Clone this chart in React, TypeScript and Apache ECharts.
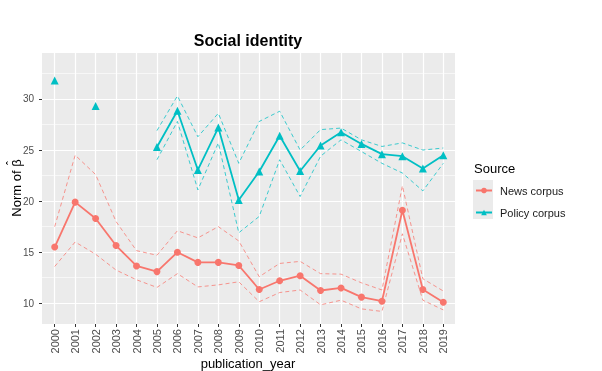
import React, { useEffect, useRef } from 'react';
import * as echarts from 'echarts';

const years = ['2000', '2001', '2002', '2003', '2004', '2005', '2006', '2007', '2008', '2009',
  '2010', '2011', '2012', '2013', '2014', '2015', '2016', '2017', '2018', '2019'];
const yMajorTicks = [10, 15, 20, 25, 30];
const yMinorTicks = [12.5, 17.5, 22.5, 27.5, 32.5];

const newsMean = [15.5, 19.9, 18.3, 15.65, 13.65, 13.1, 15.0, 14.0, 14.0, 13.7,
  11.35, 12.2, 12.7, 11.25, 11.5, 10.6, 10.2, 19.1, 11.35, 10.1];
const newsUpper = [17.5, 24.5, 22.6, 18.0, 15.15, 14.7, 17.1, 16.4, 17.5, 16.1,
  12.6, 13.9, 14.1, 12.9, 12.85, 12.0, 11.3, 21.5, 12.4, 11.2];
const newsLower = [13.6, 16.0, 14.8, 13.25, 12.3, 11.55, 12.9, 11.6, 11.8, 12.1,
  10.15, 11.05, 11.3, 9.85, 10.3, 9.45, 9.2, 16.8, 10.3, 9.35];

const policyMean = [31.8, null, 29.3, null, null, 25.3, 28.85, 23.05, 27.2, 20.1,
  22.9, 26.4, 22.95, 25.45, 26.75, 25.6, 24.6, 24.4, 23.2, 24.5];
const policyUpper = [null, null, null, null, null, 26.9, 30.3, 26.3, 28.6, 23.7,
  27.8, 28.8, 25.0, 27.0, 27.15, 26.0, 25.35, 25.7, 25.0, 25.2];
const policyLower = [null, null, null, null, null, 24.05, 27.8, 21.1, 25.7, 16.9,
  18.5, 24.05, 20.45, 24.4, 26.0, 24.85, 23.7, 22.75, 21.0, 23.7];

const FONT = '"Liberation Sans", Arial, sans-serif';
const NEWS = '#F8766D';
const POLICY = '#00BFC4';

export default function App() {
  const ref = useRef<HTMLDivElement>(null);
  useEffect(() => {
    const chart = echarts.init(ref.current as HTMLDivElement, null, { renderer: 'svg' });
    const yMin = 7.97;
    const yMax = 34.5;
    const dashed = (name: string, data: (number | null)[], color: string) => ({
      type: 'line',
      name,
      data,
      xAxisIndex: 1,
      yAxisIndex: 2,
      symbol: 'none',
      silent: true,
      connectNulls: false,
      lineStyle: { color, width: 1, type: [4, 3], opacity: 0.75 },
      itemStyle: { color },
      z: 2,
    });
    chart.setOption({
      animation: false,
      textStyle: { fontFamily: FONT },
      graphic: [
        {
          type: 'text', x: 248, y: 40,
          style: { text: 'Social identity', font: 'bold 16px ' + FONT, fill: '#000', textAlign: 'center', textVerticalAlign: 'middle' },
        },
        {
          type: 'text', x: 248, y: 363,
          style: { text: 'publication_year', font: '13px ' + FONT, fill: '#000', textAlign: 'center', textVerticalAlign: 'middle' },
        },
        {
          type: 'text', x: 16, y: 188, rotation: Math.PI / 2,
          style: { text: 'Norm of \u03B2', font: '13px ' + FONT, fill: '#000', textAlign: 'center', textVerticalAlign: 'middle' },
        },
        {
          type: 'text', x: 12, y: 163, rotation: Math.PI / 2,
          style: { text: '\u02C6', font: '12px ' + FONT, fill: '#000', textAlign: 'center', textVerticalAlign: 'middle' },
        },
        {
          type: 'text', x: 474, y: 168,
          style: { text: 'Source', font: '13px ' + FONT, fill: '#000', textAlign: 'left', textVerticalAlign: 'middle' },
        },
        {
          type: 'rect', shape: { x: 473, y: 180, width: 20, height: 39 },
          style: { fill: '#EBEBEB' }, z: 0,
        },
      ],
      legend: {
        data: ['News corpus', 'Policy corpus'],
        orient: 'vertical',
        left: 475,
        top: 185,
        itemWidth: 16,
        itemHeight: 7,
        itemGap: 11,
        padding: 0,
        selectedMode: false,
        textStyle: { fontSize: 11, color: '#1A1A1A', fontFamily: FONT, padding: [0, 0, 0, 3] },
      },
      grid: [
        { left: 42, top: 53, width: 413, height: 271, show: true, backgroundColor: '#EBEBEB', borderWidth: 0, outerBoundsMode: 'none', containLabel: false },
        { left: 54.7, top: 53, width: 388.6, height: 271, show: false, outerBoundsMode: 'none', containLabel: false },
      ],
      xAxis: [
        { type: 'value', gridIndex: 0, show: false, min: 0, max: 1 },
        {
          type: 'category', gridIndex: 1, data: years, boundaryGap: false,
          axisLine: { show: false },
          axisTick: { show: true, length: 3, interval: 0, lineStyle: { color: '#333333', width: 1 } },
          axisLabel: { rotate: 90, interval: 0, margin: 5, fontSize: 11, color: '#4D4D4D', fontFamily: FONT },
          splitLine: { show: true, interval: 0, lineStyle: { color: '#FFFFFF', width: 1.2 } },
        },
      ],
      yAxis: [
        {
          type: 'value', gridIndex: 0, min: yMin, max: yMax,
          axisLine: { show: false },
          axisTick: { show: true, length: 3, customValues: yMajorTicks, lineStyle: { color: '#333333', width: 1 } },
          axisLabel: { customValues: yMajorTicks, margin: 8, fontSize: 10, color: '#4D4D4D', fontFamily: FONT },
          splitLine: { show: true, lineStyle: { color: '#FFFFFF', width: 1.2 } },
        },
        {
          type: 'value', gridIndex: 0, min: yMin, max: yMax,
          axisLine: { show: false },
          axisTick: { show: false, customValues: yMinorTicks },
          axisLabel: { show: false, customValues: yMinorTicks },
          splitLine: { show: true, lineStyle: { color: '#FFFFFF', width: 0.6 } },
        },
        {
          type: 'value', gridIndex: 1, min: yMin, max: yMax, show: false,
          splitLine: { show: false },
        },
      ],
      series: [
        dashed('newsUpper', newsUpper, NEWS),
        dashed('newsLower', newsLower, NEWS),
        dashed('policyUpper', policyUpper, POLICY),
        dashed('policyLower', policyLower, POLICY),
        {
          type: 'line', name: 'News corpus', data: newsMean, xAxisIndex: 1, yAxisIndex: 2,
          symbol: 'circle', symbolSize: 7, showSymbol: true, showAllSymbol: true,
          lineStyle: { color: NEWS, width: 1.8 }, itemStyle: { color: NEWS }, z: 3,
        },
        {
          type: 'line', name: 'Policy corpus', data: policyMean, xAxisIndex: 1, yAxisIndex: 2,
          symbol: 'triangle', symbolSize: 8, showSymbol: true, showAllSymbol: true, connectNulls: false,
          lineStyle: { color: POLICY, width: 1.8 }, itemStyle: { color: POLICY }, z: 3,
        },
      ],
    });
    return () => chart.dispose();
  }, []);
  return <div ref={ref} style={{ position: 'fixed', left: 0, top: 0, width: 602, height: 371 }} />;
}
